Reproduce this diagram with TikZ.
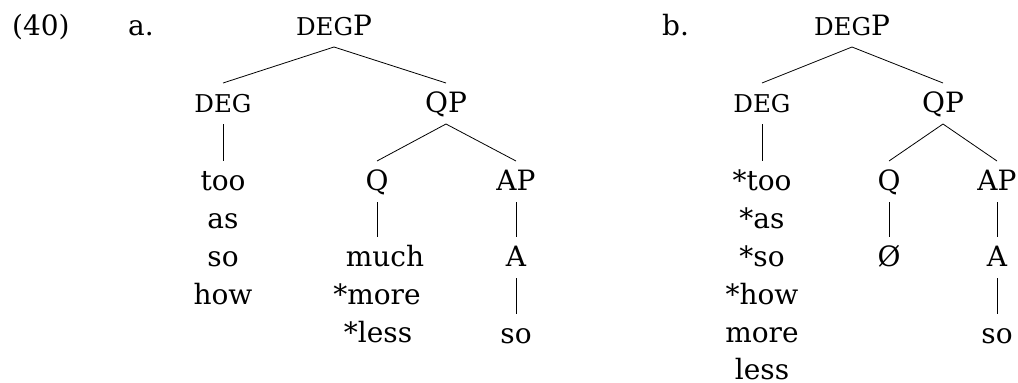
\documentclass[tikz,border=0pt]{standalone}
\usepackage{fontspec}
\setmainfont{DejaVu Serif}
\newcommand\smc[1]{{\fontsize{24.5pt}{24.5pt}\selectfont #1}}
\begin{document}
\begin{tikzpicture}[x=1pt,y=-1pt,
  lbl/.style={font=\fontsize{28pt}{34pt}\selectfont, inner sep=0pt, outer sep=0pt,
    text height=29pt, text depth=12pt, anchor=base},
  tag/.style={font=\fontsize{28pt}{34pt}\selectfont, inner sep=0pt, anchor=base west},
  br/.style={draw, line width=0.8pt}]
\useasboundingbox (0,0) rectangle (1018,383);
% labels
\node[tag] (ex) at (12,35) {(40)};
\node[tag] (la) at (128,35) {a.};
\node[tag] (lb) at (662,35) {b.};
% tree a
\node[lbl] (degpA) at (334,35) {\smc{DEG}P};
\node[lbl] (degA) at (223,112) {\smc{DEG}};
\node[lbl] (qpA) at (446,112) {QP};
\node[lbl] (tooA) at (223,190) {too};
\node[lbl] (asA) at (223,228) {as};
\node[lbl] (soA) at (223,266) {so};
\node[lbl] (howA) at (223,304) {how};
\node[lbl] (qA) at (377,190) {Q};
\node[lbl] (apA) at (516,190) {AP};
\node[lbl] (muchA) at (385,266) {much};
\node[lbl] (moreA) at (377,304) {*more};
\node[lbl] (lessA) at (378,342) {*less};
\node[lbl] (aA) at (516,266) {A};
\node[lbl] (so2A) at (516,343) {so};
\path[br] (degpA.south) -- (degA.north);
\path[br] (degpA.south) -- (qpA.north);
\path[br] (degA.south) -- (tooA.north);
\path[br] (qpA.south) -- (qA.north);
\path[br] (qpA.south) -- (apA.north);
\path[br] (qA.south) -- (qA.south |- muchA.north);
\path[br] (apA.south) -- (aA.north);
\path[br] (aA.south) -- (so2A.north);
% tree b
\node[lbl] (degpB) at (852,35) {\smc{DEG}P};
\node[lbl] (degB) at (762,112) {\smc{DEG}};
\node[lbl] (qpB) at (943,112) {QP};
\node[lbl] (tooB) at (762,190) {*too};
\node[lbl] (asB) at (762,228) {*as};
\node[lbl] (soB) at (762,266) {*so};
\node[lbl] (howB) at (762,304) {*how};
\node[lbl] (moreB) at (762,342) {more};
\node[lbl, text depth=0pt] (lessB) at (762,379) {less};
\node[lbl] (qB) at (889,190) {Q};
\node[lbl] (apB) at (997,190) {AP};
\node[lbl] (zeroB) at (889,266) {Ø};
\node[lbl] (aB) at (997,266) {A};
\node[lbl] (so2B) at (997,343) {so};
\path[br] (degpB.south) -- (degB.north);
\path[br] (degpB.south) -- (qpB.north);
\path[br] (degB.south) -- (tooB.north);
\path[br] (qpB.south) -- (qB.north);
\path[br] (qpB.south) -- (apB.north);
\path[br] (qB.south) -- (zeroB.north);
\path[br] (apB.south) -- (aB.north);
\path[br] (aB.south) -- (so2B.north);
\end{tikzpicture}
\end{document}
